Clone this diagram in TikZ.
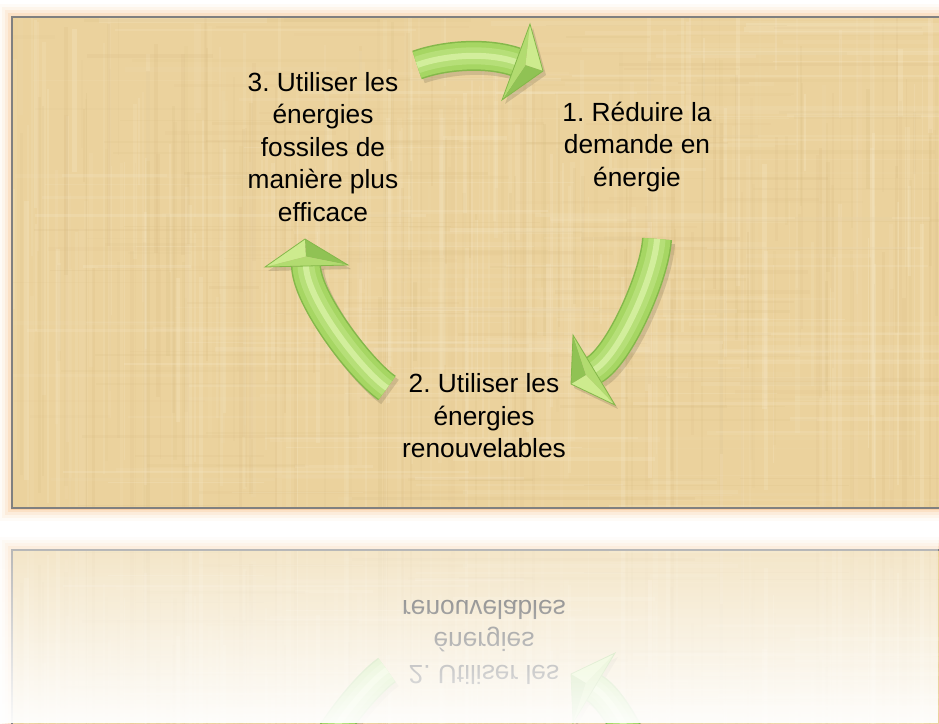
\documentclass[tikz,border=0pt]{standalone}
\usepackage{fontspec}
\setmainfont{Liberation Sans}
\usetikzlibrary{calc,fadings}
\definecolor{papbase}{HTML}{EBD29D}
\definecolor{paplight}{HTML}{F7E9C8}
\definecolor{papdark}{HTML}{D6B980}
\definecolor{glowc}{HTML}{FBB26A}
\definecolor{framec}{HTML}{808080}
\definecolor{gdark}{HTML}{84B84A}
\definecolor{gmid}{HTML}{A6D663}
\definecolor{glight}{HTML}{B6DF78}
\definecolor{ghigh}{HTML}{D2EE9C}
\definecolor{gface1}{HTML}{CDEB8E}
\definecolor{gface2}{HTML}{90C254}
\definecolor{gface3}{HTML}{B2DB70}
\tikzfading[name=reflfade, top color=transparent!62, bottom color=transparent!4]
\tikzset{
  lbl/.style={inner sep=0pt, align=center, font=\fontsize{26.3}{32.5}\selectfont\frenchspacing, text=black},
}
\newif\ifreflected
\newcommand\papyruspanel{%
  \foreach \gw/\go in {26/0.05,20/0.08,14/0.12,8/0.18,3/0.3}{\draw[glowc, line width=\gw pt, opacity=\go] (12,17) rectangle (960,508);}
  \begin{scope}
    \clip (12,17) rectangle (960,508);
    \fill[papbase] (12,17) rectangle (960,508);
    \pgfmathsetseed{11}
    \foreach \i in {1,...,220}{%
      \pgfmathsetmacro\xx{12+rnd*940}\pgfmathsetmacro\ww{1+rnd*4}\pgfmathsetmacro\oo{0.06+rnd*0.22}\pgfmathsetmacro\yy{rnd*300}\pgfmathsetmacro\hh{60+rnd*400}
      \fill[paplight, opacity=\oo] (\xx,\yy) rectangle ++(\ww,\hh);}
    \foreach \i in {1,...,160}{%
      \pgfmathsetmacro\xx{12+rnd*940}\pgfmathsetmacro\ww{1+rnd*3}\pgfmathsetmacro\oo{0.05+rnd*0.15}\pgfmathsetmacro\yy{rnd*300}\pgfmathsetmacro\hh{60+rnd*400}
      \fill[papdark, opacity=\oo] (\xx,\yy) rectangle ++(\ww,\hh);}
    \foreach \i in {1,...,140}{%
      \pgfmathsetmacro\xx{rnd*800}\pgfmathsetmacro\ww{60+rnd*400}\pgfmathsetmacro\oo{0.06+rnd*0.2}\pgfmathsetmacro\yy{17+rnd*491}\pgfmathsetmacro\hh{1+rnd*4}
      \fill[paplight, opacity=\oo] (\xx,\yy) rectangle ++(\ww,\hh);}
    \foreach \i in {1,...,120}{%
      \pgfmathsetmacro\xx{rnd*800}\pgfmathsetmacro\ww{50+rnd*300}\pgfmathsetmacro\oo{0.04+rnd*0.14}\pgfmathsetmacro\yy{17+rnd*491}\pgfmathsetmacro\hh{1+rnd*3}
      \fill[papdark, opacity=\oo] (\xx,\yy) rectangle ++(\ww,\hh);}
  \end{scope}
  \draw[framec, line width=1.5pt] (12,17) rectangle (960,508);
}
\newcommand\greenarrow[7]{%
  \draw[transform canvas={shift={(3pt,-4pt)}}, black, opacity=0.12, line width=30pt] (#1) .. controls (#2) and (#3) .. (#4);
  \fill[transform canvas={shift={(3pt,-4pt)}}, black, opacity=0.12] (#5) -- (#6) -- (#7) -- cycle;
  \draw[gdark, line width=30pt] (#1) .. controls (#2) and (#3) .. (#4);
  \draw[gmid, line width=27pt] (#1) .. controls (#2) and (#3) .. (#4);
  \draw[glight, line width=17pt] (#1) .. controls (#2) and (#3) .. (#4);
  \draw[ghigh, line width=6pt] (#1) .. controls (#2) and (#3) .. (#4);
  \coordinate (hc) at ($(#5)!0.5!(#7)!0.35!(#6)$);
  \fill[gface1] (#5) -- (#6) -- (hc) -- cycle;
  \fill[gface2] (#6) -- (#7) -- (hc) -- cycle;
  \fill[gface3] (#7) -- (#5) -- (hc) -- cycle;
  \draw[gdark, line width=0.8pt, line join=miter] (#5) -- (#6) -- (#7) -- cycle;
}
\newcommand\scene{%
  \papyruspanel
  % arrow 3 -> 1 (top)
  \coordinate (a1s) at (417,65);
  \coordinate (a1c) at (445,55);
  \coordinate (a1d) at (487,52);
  \coordinate (a1e) at (516,62);
  \coordinate (a1p) at (530,24);
  \coordinate (a1t) at (543,71);
  \coordinate (a1q) at (502,100);
  % arrow 1 -> 2 (right)
  \coordinate (a2s) at (657,239);
  \coordinate (a2c) at (655,275);
  \coordinate (a2d) at (620,355);
  \coordinate (a2e) at (594,370);
  \coordinate (a2p) at (615,405);
  \coordinate (a2t) at (571,384);
  \coordinate (a2q) at (573,335);
  % arrow 2 -> 3 (left)
  \coordinate (a3s) at (387,388);
  \coordinate (a3c) at (362,371);
  \coordinate (a3d) at (307,300);
  \coordinate (a3e) at (306,266);
  \coordinate (a3p) at (265,267);
  \coordinate (a3t) at (305,239);
  \coordinate (a3q) at (348,265);
  \greenarrow{a1s}{a1c}{a1d}{a1e}{a1p}{a1t}{a1q}
  \greenarrow{a2s}{a2c}{a2d}{a2e}{a2p}{a2t}{a2q}
  \greenarrow{a3s}{a3c}{a3d}{a3e}{a3p}{a3t}{a3q}
  \node[lbl] (t2) at (484,416) {2. Utiliser les\\énergies\\renouvelables};
  \ifreflected\else
  \node[lbl] (t1) at (637,147) {1. Réduire la\\demande en\\énergie};
  \node[lbl] (t3) at (323,147) {3. Utiliser les\\énergies\\fossiles de\\manière plus\\efficace};
  \fi
}
\begin{document}
\begin{tikzpicture}[x=1pt, y=-1pt]
  \useasboundingbox (0,0) rectangle (939,723);
  \fill[white] (0,0) rectangle (939,723);
  % reflection
  \reflectedtrue
  \begin{scope}
    \clip (0,529) rectangle (939,723);
    \begin{scope}[shift={(0,1058)}, yscale=-1, transform shape]
      \scene
    \end{scope}
  \end{scope}
  \fill[white, path fading=reflfade] (0,529) rectangle (939,723);
  % main
  \reflectedfalse
  \scene
\end{tikzpicture}
\end{document}
